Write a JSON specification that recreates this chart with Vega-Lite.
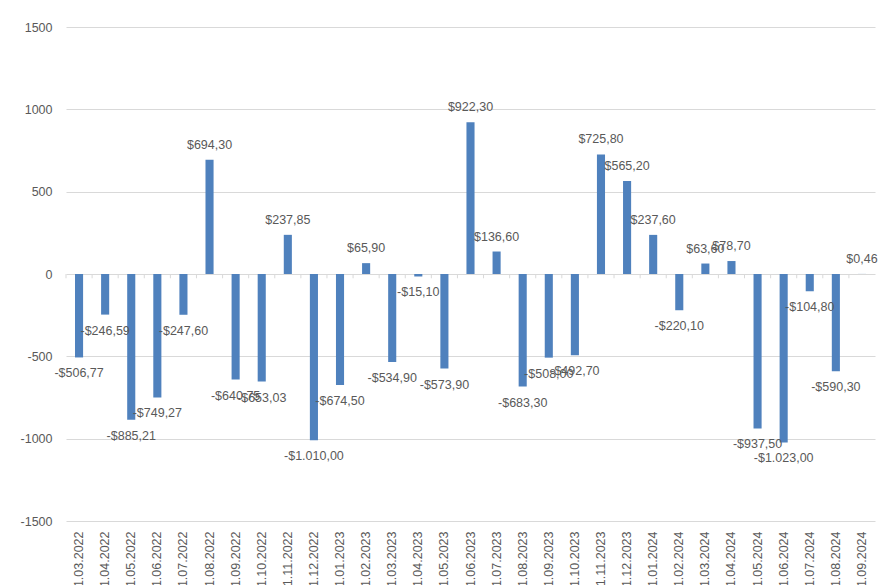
{
  "$schema": "https://vega.github.io/schema/vega-lite/v6.json",
  "autosize": "none",
  "width": 809,
  "height": 494,
  "padding": {"left": 66, "top": 27, "right": 3, "bottom": 64},
  "background": "white",
  "config": {
    "locale": {"number": {"decimal": ",", "thousands": ".", "grouping": [3], "currency": ["$", ""], "minus": "-"}},
    "view": {"stroke": null},
    "font": "Liberation Sans"
  },
  "data": {"values": [
    {"month": "01.03.2022", "value": -506.77},
    {"month": "01.04.2022", "value": -246.59},
    {"month": "01.05.2022", "value": -885.21},
    {"month": "01.06.2022", "value": -749.27},
    {"month": "01.07.2022", "value": -247.60},
    {"month": "01.08.2022", "value": 694.30},
    {"month": "01.09.2022", "value": -640.75},
    {"month": "01.10.2022", "value": -653.03},
    {"month": "01.11.2022", "value": 237.85},
    {"month": "01.12.2022", "value": -1010.00},
    {"month": "01.01.2023", "value": -674.50},
    {"month": "01.02.2023", "value": 65.90},
    {"month": "01.03.2023", "value": -534.90},
    {"month": "01.04.2023", "value": -15.10},
    {"month": "01.05.2023", "value": -573.90},
    {"month": "01.06.2023", "value": 922.30},
    {"month": "01.07.2023", "value": 136.60},
    {"month": "01.08.2023", "value": -683.30},
    {"month": "01.09.2023", "value": -508.00},
    {"month": "01.10.2023", "value": -492.70},
    {"month": "01.11.2023", "value": 725.80},
    {"month": "01.12.2023", "value": 565.20},
    {"month": "01.01.2024", "value": 237.60},
    {"month": "01.02.2024", "value": -220.10},
    {"month": "01.03.2024", "value": 63.60},
    {"month": "01.04.2024", "value": 78.70},
    {"month": "01.05.2024", "value": -937.50},
    {"month": "01.06.2024", "value": -1023.00},
    {"month": "01.07.2024", "value": -104.80},
    {"month": "01.08.2024", "value": -590.30},
    {"month": "01.09.2024", "value": 0.46}
  ]},
  "encoding": {
    "x": {
      "field": "month", "type": "ordinal", "sort": null,
      "scale": {"paddingInner": 0, "paddingOuter": 0},
      "axis": {"title": null, "labelAngle": -90, "labelAlign": "right", "labelBaseline": "middle", "labelPadding": 10, "domain": false, "ticks": false, "grid": false, "labelColor": "#595959", "labelFontSize": 12.5, "labelFont": "Liberation Sans"}
    },
    "y": {
      "field": "value", "type": "quantitative",
      "scale": {"domain": [-1500, 1500], "nice": false},
      "axis": {"title": null, "values": [-1500, -1000, -500, 0, 500, 1000, 1500], "format": "d", "domain": false, "ticks": false, "labelPadding": 14, "gridColor": "#d9d9d9", "gridWidth": 1, "labelColor": "#595959", "labelFontSize": 12.5, "labelFont": "Liberation Sans"}
    }
  },
  "layer": [
    {
      "mark": {"type": "rule", "color": "#d9d9d9", "strokeWidth": 1},
      "encoding": {
        "x": {"field": "month", "type": "ordinal", "sort": null, "bandPosition": 0},
        "y": {"datum": 0},
        "y2": {"datum": -26}
      }
    },
    {
      "mark": {"type": "bar", "color": "#4F81BD", "width": {"band": 0.31}}
    },
    {
      "transform": [{"filter": "datum.value >= 0"}],
      "mark": {"type": "text", "baseline": "middle", "align": "center", "dy": -15, "fontSize": 12.5, "color": "#595959", "font": "Liberation Sans"},
      "encoding": {"text": {"field": "value", "type": "quantitative", "format": "$,.2f"}}
    },
    {
      "transform": [{"filter": "datum.value < 0"}],
      "mark": {"type": "text", "baseline": "middle", "align": "center", "dy": 16, "fontSize": 12.5, "color": "#595959", "font": "Liberation Sans"},
      "encoding": {"text": {"field": "value", "type": "quantitative", "format": "$,.2f"}}
    }
  ]
}
